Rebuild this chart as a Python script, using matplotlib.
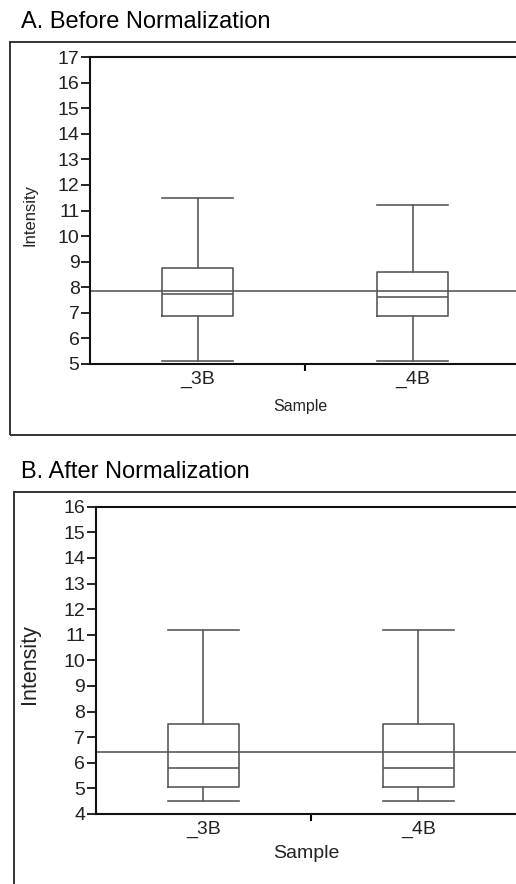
import matplotlib
matplotlib.use("Agg")
import matplotlib.pyplot as plt
from matplotlib.patches import Rectangle

plt.rcParams['font.family'] = ['Liberation Sans', 'DejaVu Sans']

samples = ["_3B", "_4B"]
# Before normalization: whisker low, Q1, median, Q3, whisker high
before_low = [5.13, 5.13]
before_q1 = [6.88, 6.88]
before_med = [7.74, 7.63]
before_q3 = [8.74, 8.58]
before_high = [11.48, 11.22]
before_mean_line = 7.85
# After normalization
after_low = [4.52, 4.52]
after_q1 = [5.04, 5.04]
after_med = [5.78, 5.78]
after_q3 = [7.52, 7.52]
after_high = [11.19, 11.19]
after_mean_line = 6.43

W, H = 516, 884
fig = plt.figure(figsize=(W / 100, H / 100), dpi=100)

BOXC = "#5a5a5a"


def px_axes(left, top, right, bottom):
    return fig.add_axes([left / W, 1 - bottom / H, (right - left) / W, (bottom - top) / H])


def panel(ax, low, q1, med, q3, high, meanline, ylim, title, tpos, frame,
          ylab_fs, xlab_fs, lab_coords):
    stats = []
    for i in range(len(samples)):
        stats.append(dict(whislo=low[i], q1=q1[i], med=med[i], q3=q3[i], whishi=high[i], label=samples[i]))
    pos = [0.5, 1.5]
    lp = dict(color=BOXC, linewidth=1.2)
    ax.bxp(stats, positions=pos, widths=0.33, capwidths=0.33, showfliers=False,
           boxprops=lp, whiskerprops=lp, capprops=lp, medianprops=lp, manage_ticks=False)
    ax.axhline(meanline, color=BOXC, linewidth=1.2, zorder=1)
    ax.set_xlim(0, 2)
    ax.set_ylim(*ylim)
    ax.set_yticks(range(ylim[0], ylim[1] + 1))
    ax.tick_params(axis='y', direction='out', length=6.5, width=1.2, labelsize=14, pad=1,
                   labelcolor='#222222')
    ax.set_xticks([1])
    ax.set_xticklabels([""])
    ax.tick_params(axis='x', which='major', direction='out', length=5, width=1.5)
    ax.set_xticks(pos, minor=True)
    ax.set_xticklabels(samples, minor=True, fontsize=14, color='#222222')
    ax.tick_params(axis='x', which='minor', length=0, pad=5)
    for s in ['left', 'bottom', 'top', 'right']:
        ax.spines[s].set_linewidth(1.5)
        ax.spines[s].set_color('#111111')
    ax.set_ylabel("Intensity", fontsize=ylab_fs, color='#222222')
    ax.set_xlabel("Sample", fontsize=xlab_fs, color='#222222')
    ax.yaxis.set_label_coords(*lab_coords[0])
    ax.xaxis.set_label_coords(*lab_coords[1])
    fig.text(tpos[0] / W, 1 - tpos[1] / H, title, fontsize=17, va='center', ha='left')
    l, t, r, b = frame
    fig.patches.append(Rectangle((l / W, 1 - b / H), (r - l) / W, (b - t) / H,
                                 transform=fig.transFigure, fill=False,
                                 edgecolor='#333333', linewidth=1.4))


axA = px_axes(90, 57, 520, 364)
panel(axA, before_low, before_q1, before_med, before_q3, before_high, before_mean_line,
      (5, 17), "A. Before Normalization", (21, 22), (10, 41.7, 530, 435), 12, 11.5,
      ((-0.121, 0.485), (0.49, -0.114)))

axB = px_axes(95.7, 506.7, 525.7, 814)
panel(axB, after_low, after_q1, after_med, after_q3, after_high, after_mean_line,
      (4, 16), "B. After Normalization", (21, 471.7), (14, 491.7, 530, 900), 15.5, 14,
      ((-0.13, 0.488), (0.489, -0.101)))

fig.savefig("out.png", dpi=100)
